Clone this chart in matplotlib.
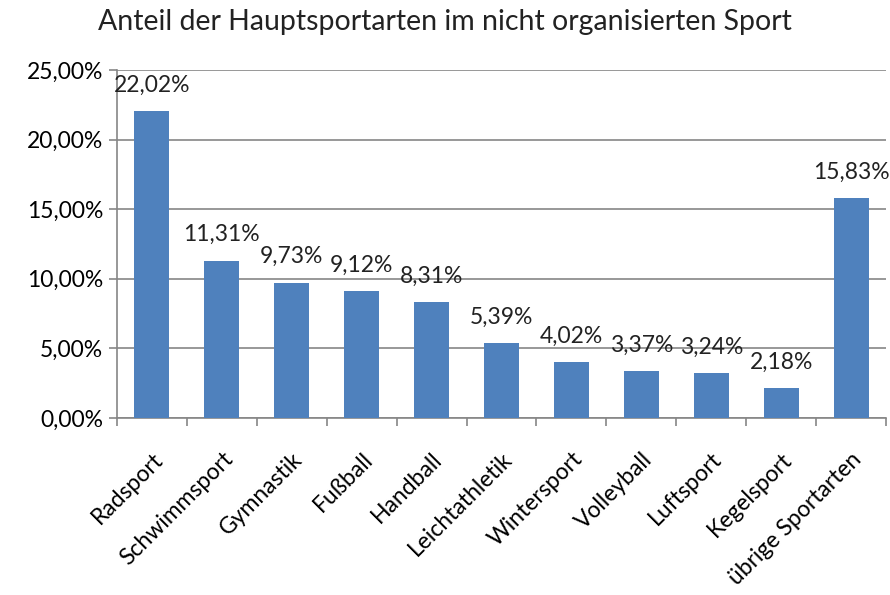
import matplotlib
matplotlib.use("Agg")
import matplotlib.pyplot as plt
import numpy as np
from matplotlib.ticker import FuncFormatter

categories = ["Radsport", "Schwimmsport", "Gymnastik", "Fußball", "Handball",
              "Leichtathletik", "Wintersport", "Volleyball", "Luftsport",
              "Kegelsport", "übrige Sportarten"]
values = [22.02, 11.31, 9.73, 9.12, 8.31, 5.39, 4.02, 3.37, 3.24, 2.18, 15.83]
yticks = [0, 5, 10, 15, 20, 25]

plt.rcParams['font.family'] = ['Lato', 'DejaVu Sans']

fig = plt.figure(figsize=(8.9, 5.95), dpi=100)
ax = fig.add_axes([117/890, 1-418/595, (886-117)/890, (418-70)/595])

x = np.arange(len(categories))
ax.bar(x, values, width=0.5, color='#4F81BD', zorder=3)
for xi, v in zip(x, values):
    ax.annotate(f"{v:.2f}%".replace('.', ','), (xi, v), xytext=(0, 11),
                textcoords='offset points', ha='center', va='bottom',
                fontsize=16.5, color='#222222', zorder=4, annotation_clip=False)

ax.set_xlim(-0.5, len(categories) - 0.5)
ax.set_ylim(0, 25)
ax.set_yticks(yticks)
ax.yaxis.set_major_formatter(FuncFormatter(lambda v, p: f"{v:.2f}%".replace('.', ',')))
ax.grid(axis='y', color='#868686', linewidth=1.2, zorder=0)
ax.set_xticks(x)
ax.set_xticklabels(categories, rotation=45, ha='right', va='top', rotation_mode='anchor')
ax.set_xticks(np.arange(-0.5, len(categories)), minor=True)
ax.tick_params(axis='x', which='major', length=0, pad=22, labelsize=16.5)
ax.tick_params(axis='x', which='minor', length=6, color='#868686', width=1.2)
ax.tick_params(axis='y', length=6, color='#868686', width=1.2, labelsize=16.5, pad=4)
for s in ['top', 'right']:
    ax.spines[s].set_visible(False)
for s in ['left', 'bottom']:
    ax.spines[s].set_color('#868686')
    ax.spines[s].set_linewidth(1.2)

fig.text(0.5, 1-22/595, "Anteil der Hauptsportarten im nicht organisierten Sport",
         ha='center', va='center', fontsize=20.5, color='#222222')

fig.savefig("out.png", dpi=100)
